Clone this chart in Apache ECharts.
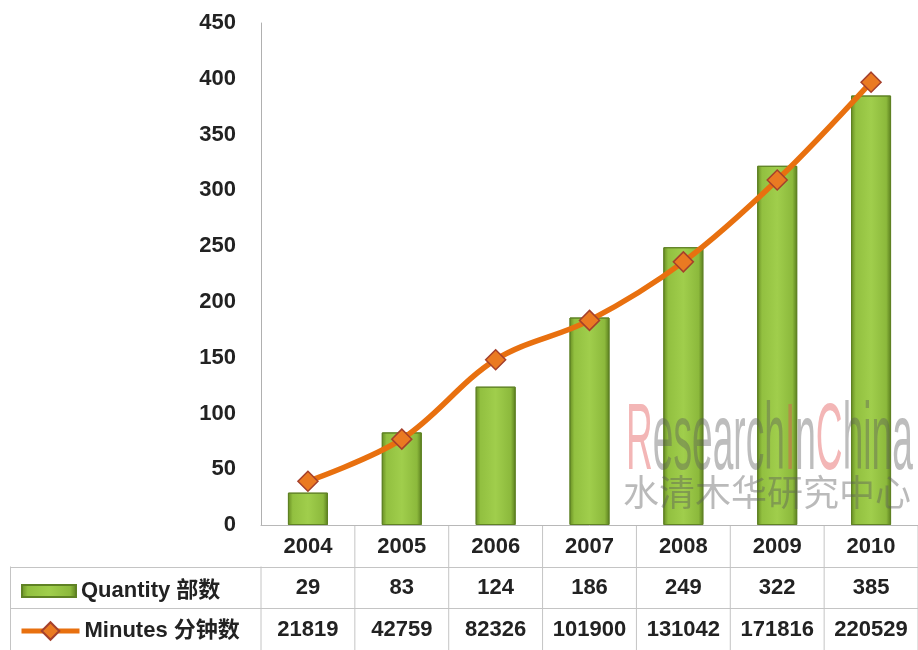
<!DOCTYPE html>
<html>
<head>
<meta charset="utf-8">
<script src="https://cdn.jsdelivr.net/npm/echarts@6/dist/echarts.min.js"></script>
<style>
  html, body { margin: 0; padding: 0; background: #fff; }
  #chart { width: 918px; height: 650px; }
</style>
</head>
<body>
<div id="chart"></div>
<script>
// data
const years = ["2004", "2005", "2006", "2007", "2008", "2009", "2010"];
const quantity = [29, 83, 124, 186, 249, 322, 385];
const minutes = [21819, 42759, 82326, 101900, 131042, 171816, 220529];
const quantityName = "Quantity 部数";
const minutesName = "Minutes 分钟数";

const FONT = "'Liberation Sans', 'Noto Sans CJK SC', sans-serif";
const GRID_BOTTOM_Y = 525;
const ROW_H = 41.5;

const chart = echarts.init(document.getElementById("chart"));

const barColor = new echarts.graphic.LinearGradient(0, 0, 1, 0, [
  { offset: 0, color: "#678c22" },
  { offset: 0.12, color: "#92c040" },
  { offset: 0.5, color: "#a0ce4c" },
  { offset: 0.88, color: "#8cb93c" },
  { offset: 1, color: "#5a7d1e" },
]);

const labelStyle = {
  fontFamily: FONT,
  fontSize: 22,
  fontWeight: "bold",
  color: "#222",
};

const tableAxis = (data, offset) => ({
  type: "category",
  data: data,
  position: "bottom",
  offset: offset,
  axisLine: { show: false },
  axisTick: { show: false },
  axisLabel: Object.assign({ margin: 11, interval: 0 }, labelStyle),
});

const option = {
  animation: false,
  grid: { left: 261, right: -4, top: 23, bottom: 125 },
  legend: [
    {
      left: 16,
      top: 575,
      data: [quantityName],
      itemWidth: 54,
      itemHeight: 12,
      itemGap: 4,
      icon: "rect",
      textStyle: labelStyle,
      selectedMode: false,
    },
    {
      left: 14,
      top: 615,
      data: [minutesName],
      itemWidth: 58,
      itemHeight: 22,
      itemGap: 4,
      lineStyle: { width: 5 },
      textStyle: labelStyle,
      selectedMode: false,
    },
  ],
  xAxis: [
    {
      type: "category",
      data: years,
      axisLine: { show: true, lineStyle: { color: "#b8b8b8", width: 1 } },
      axisTick: { show: false },
      axisLabel: Object.assign({ margin: 11, interval: 0 }, labelStyle),
    },
    tableAxis(quantity.map(String), 41),
    tableAxis(minutes.map(String), 83),
  ],
  yAxis: [
    {
      type: "value",
      min: 0,
      max: 450,
      interval: 50,
      axisLine: { show: true, lineStyle: { color: "#b0b0b0" } },
      axisTick: { show: false },
      splitLine: { show: false },
      axisLabel: Object.assign({ margin: 25 }, labelStyle),
    },
    {
      type: "value",
      min: 0,
      max: 250000,
      show: false,
      splitLine: { show: false },
    },
  ],
  series: [
    {
      name: quantityName,
      type: "bar",
      data: quantity,
      barWidth: 40,
      itemStyle: { color: barColor, borderColor: "#5f8224", borderWidth: 1 },
    },
    {
      name: minutesName,
      type: "line",
      yAxisIndex: 1,
      data: minutes,
      smooth: 0.35,
      symbol: "diamond",
      symbolSize: 20,
      lineStyle: { color: "#e8700f", width: 5.5 },
      itemStyle: { color: "#ea7a22", borderColor: "#a5402c", borderWidth: 1.5 },
      z: 3,
    },
  ],
};

chart.setOption(option);

// table lines and watermark, positioned from the category axis
const centers = years.map((y) => chart.convertToPixel({ xAxisIndex: 0 }, y));
const band = centers[1] - centers[0];
const bounds = centers.map((c) => c - band / 2).concat([centers[centers.length - 1] + band / 2]);
const lineStyle = { stroke: "#c4c4c4", lineWidth: 1 };
const graphics = [];

[1, 2, 3].forEach((r) => {
  const y = Math.round(GRID_BOTTOM_Y + r * ROW_H) + 0.5;
  graphics.push({ type: "line", shape: { x1: 10, y1: y, x2: 918, y2: y }, style: lineStyle, silent: true });
});
graphics.push({ type: "line", shape: { x1: 10.5, y1: GRID_BOTTOM_Y + ROW_H, x2: 10.5, y2: 650 }, style: lineStyle, silent: true });
bounds.forEach((x, i) => {
  const top = i === 0 ? GRID_BOTTOM_Y + ROW_H : GRID_BOTTOM_Y;
  graphics.push({ type: "line", shape: { x1: x, y1: top, x2: x, y2: 650 }, style: lineStyle, silent: true });
});

// watermark
graphics.push({
  type: "text",
  x: 626,
  y: 396,
  scaleX: 0.395,
  z: 100,
  silent: true,
  style: {
    text: "{p|R}{g|esearch}{p|I}{g|n}{p|C}{g|hina}",
    verticalAlign: "top",
    rich: {
      p: { fill: "rgba(226,80,80,0.42)", fontSize: 94, fontFamily: "'Liberation Sans'" },
      g: { fill: "rgba(90,90,90,0.4)", fontSize: 94, fontFamily: "'Liberation Sans'" },
    },
  },
});
graphics.push({
  type: "text",
  x: 623,
  y: 474,
  z: 100,
  silent: true,
  style: {
    text: "水清木华研究中心",
    fill: "rgba(90,90,90,0.42)",
    fontSize: 36,
    fontFamily: "'Noto Sans CJK SC'",
    verticalAlign: "top",
  },
});

chart.setOption({ graphic: graphics });
</script>
</body>
</html>
